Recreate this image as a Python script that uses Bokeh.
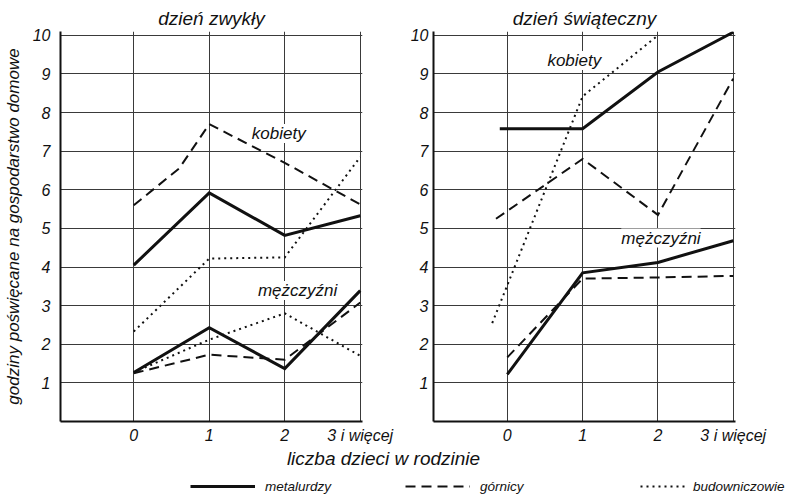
from bokeh.plotting import figure
from bokeh.layouts import column, row
from bokeh.models import Range1d, FixedTicker, Legend, LegendItem, Label
from bokeh.core.properties import value
from bokeh.embed import file_html
from bokeh.resources import INLINE

FONT = "Liberation Sans"
NAN = float("nan")

# ---- data ----
x_ticks = [0, 1, 2, 3]
x_tick_labels = {0: "0", 1: "1", 2: "2", 3: "3 i więcej"}
y_ticks = [1, 2, 3, 4, 5, 6, 7, 8, 9, 10]

series_names = ["metalurdzy", "górnicy", "budowniczowie"]

# dzień zwykły (left)
zw_kob_metal_x = [0, 1, 2, 3]
zw_kob_metal_y = [4.05, 5.92, 4.82, 5.33]
zw_kob_gorn_x = [0, 0.6, 1, 2, 3]
zw_kob_gorn_y = [5.6, 6.55, 7.7, 6.7, 5.62]
zw_kob_bud_x = [0, 1, 2, 3]
zw_kob_bud_y = [2.33, 4.22, 4.25, 6.85]
zw_mez_metal_x = [0, 1, 2, 3]
zw_mez_metal_y = [1.27, 2.43, 1.37, 3.39]
zw_mez_gorn_x = [0, 1, 2, 3]
zw_mez_gorn_y = [1.25, 1.73, 1.6, 3.08]
zw_mez_bud_x = [0, 1, 2, 3]
zw_mez_bud_y = [1.27, 2.12, 2.8, 1.7]

# dzień świąteczny (right)
sw_kob_metal_x = [-0.1, 1, 2, 3]
sw_kob_metal_y = [7.58, 7.58, 9.05, 10.08]
sw_kob_gorn_x = [-0.15, 1, 2, 3]
sw_kob_gorn_y = [5.25, 6.8, 5.35, 8.88]
sw_kob_bud_x = [-0.2, 1, 2]
sw_kob_bud_y = [2.55, 8.42, 10.0]
sw_mez_metal_x = [0, 1, 2, 3]
sw_mez_metal_y = [1.22, 3.85, 4.12, 4.68]
sw_mez_gorn_x = [0, 1, 2, 3]
sw_mez_gorn_y = [1.66, 3.7, 3.73, 3.77]

# in-chart group labels
zw_group_labels = ["kobiety", "mężczyźni"]
zw_group_x = [1.92, 2.17]
zw_group_y = [7.46, 3.39]
sw_group_labels = ["kobiety", "mężczyźni"]
sw_group_x = [0.89, 2.04]
sw_group_y = [9.35, 4.75]

INK = "#111111"
STYLE = {
    "metalurdzy": dict(line_width=3, line_dash="solid"),
    "górnicy": dict(line_width=2, line_dash="10 6"),
    "budowniczowie": dict(line_width=2, line_dash="2 4"),
}

H1 = 446


def make_panel(title, width, left, right, x_start):
    p = figure(width=width, height=H1, output_backend="svg", toolbar_location=None,
               x_range=Range1d(x_start, 3.03), y_range=Range1d(0, 10.1),
               min_border_left=left, min_border_right=right, min_border_top=31,
               min_border_bottom=0, title=title)
    p.title.text_font = FONT
    p.title.text_font_style = "italic"
    p.title.text_font_size = "19px"
    p.title.text_color = INK
    p.title.align = "center"
    p.title.standoff = 6
    p.outline_line_color = None
    p.background_fill_color = "white"
    p.border_fill_color = "white"
    for ax in (p.xaxis, p.yaxis):
        ax.axis_line_width = 2
        ax.axis_line_color = INK
        ax.major_tick_line_color = None
        ax.minor_tick_line_color = None
        ax.major_tick_out = 0
        ax.major_tick_in = 0
        ax.minor_tick_out = 0
        ax.minor_tick_in = 0
        ax.major_label_text_font = FONT
        ax.major_label_text_font_style = "italic"
        ax.major_label_text_font_size = "16px"
        ax.major_label_text_color = INK
    p.xaxis.ticker = FixedTicker(ticks=x_ticks)
    p.xaxis.major_label_overrides = x_tick_labels
    p.xaxis.major_label_standoff = 5
    p.yaxis.ticker = FixedTicker(ticks=y_ticks)
    p.xgrid.ticker = FixedTicker(ticks=x_ticks)
    p.ygrid.ticker = FixedTicker(ticks=y_ticks)
    for g in (p.xgrid, p.ygrid):
        g.grid_line_color = "#3a3a3a"
        g.grid_line_width = 1
    return p


left = make_panel("dzień zwykły", 400, 60, 38, -0.97)
left.yaxis.axis_label = "godziny poświęcane na gospodarstwo domowe"
left.yaxis.axis_label_text_font = FONT
left.yaxis.axis_label_text_font_style = "italic"
left.yaxis.axis_label_text_font_size = "17px"
left.yaxis.axis_label_text_color = INK
left.yaxis.axis_label_standoff = 7
left.yaxis.major_label_standoff = 10

right = make_panel("dzień świąteczny", 389, 33, 54, -0.98)
right.yaxis.major_label_standoff = 5

for (p, xs, ys, name) in [
    (left, zw_kob_metal_x, zw_kob_metal_y, "metalurdzy"),
    (left, zw_kob_gorn_x, zw_kob_gorn_y, "górnicy"),
    (left, zw_kob_bud_x, zw_kob_bud_y, "budowniczowie"),
    (left, zw_mez_metal_x, zw_mez_metal_y, "metalurdzy"),
    (left, zw_mez_gorn_x, zw_mez_gorn_y, "górnicy"),
    (left, zw_mez_bud_x, zw_mez_bud_y, "budowniczowie"),
    (right, sw_kob_metal_x, sw_kob_metal_y, "metalurdzy"),
    (right, sw_kob_gorn_x, sw_kob_gorn_y, "górnicy"),
    (right, sw_kob_bud_x, sw_kob_bud_y, "budowniczowie"),
    (right, sw_mez_metal_x, sw_mez_metal_y, "metalurdzy"),
    (right, sw_mez_gorn_x, sw_mez_gorn_y, "górnicy"),
]:
    p.line(xs, ys, line_color=INK, line_join="miter", **STYLE[name])

for p, labs, xs, ys in [(left, zw_group_labels, zw_group_x, zw_group_y),
                        (right, sw_group_labels, sw_group_x, sw_group_y)]:
    p.text(x=xs, y=ys, text=labs, text_font=value(FONT), text_font_style="italic",
           text_font_size="17px", text_color=INK, text_align="center",
           text_baseline="middle", background_fill_color="white")

# bottom strip: x-axis title and legend
H3 = 50
bottom = figure(width=789, height=H3, output_backend="svg", toolbar_location=None,
                x_range=Range1d(0, 1), y_range=Range1d(0, 1),
                x_axis_location=None, y_axis_location=None,
                min_border=0, min_border_left=0, min_border_right=0,
                min_border_top=0, min_border_bottom=0)
bottom.grid.visible = False
bottom.outline_line_color = None
bottom.background_fill_color = "white"
bottom.border_fill_color = "white"

bottom.add_layout(Label(x=383, y=H3 - 12, x_units="screen", y_units="screen",
                        text="liczba dzieci w rodzinie", text_font=FONT,
                        text_font_style="italic", text_font_size="19px",
                        text_color=INK, text_align="center", text_baseline="middle"))

legend_x = [190, 405, 640]
glyph_w = [65, 65, 45]
standoffs = [10, 10, 8]
for name, lx, gw, so in zip(series_names, legend_x, glyph_w, standoffs):
    r = bottom.line([NAN], [NAN], line_color=INK, **STYLE[name])
    lg = Legend(items=[LegendItem(label=name, renderers=[r])], location=(lx, 2),
                glyph_width=gw, glyph_height=16, label_standoff=so, padding=0, margin=0,
                label_height=16, border_line_color=None, background_fill_alpha=0,
                label_text_font=FONT, label_text_font_style="italic",
                label_text_font_size="13.5px", label_text_color=INK)
    bottom.add_layout(lg)

layout = column(row(left, right), bottom)
open("out.html", "w").write(file_html(layout, INLINE))
